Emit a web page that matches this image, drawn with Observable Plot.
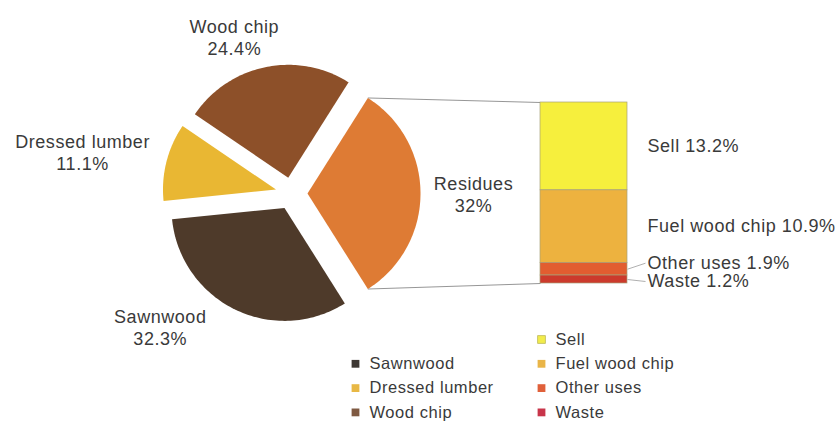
<!DOCTYPE html>
<html>
<head>
<meta charset="utf-8">
<script src="https://cdn.jsdelivr.net/npm/d3@7"></script>
<script src="https://cdn.jsdelivr.net/npm/@observablehq/plot@0.6"></script>
<style>
  html, body { margin: 0; padding: 0; background: #fff; }
  #chart svg { display: block; }
  #chart text { letter-spacing: 0.55px; }
</style>
</head>
<body>
<div id="chart"></div>
<script>
// ---------- data ----------
const mainCats = ["Residues", "Sawnwood", "Dressed lumber", "Wood chip"];
const mainVals = [32, 32.3, 11.1, 24.4];
const resCats = ["Sell", "Fuel wood chip", "Other uses", "Waste"];
const resVals = [13.2, 10.9, 1.9, 1.2];
const legendLeft = ["Sawnwood", "Dressed lumber", "Wood chip"];
const legendRight = ["Sell", "Fuel wood chip", "Other uses", "Waste"];

// ---------- styles / layout ----------
const colors = {
  "Residues": "#de7b34",
  "Sawnwood": "#4e3a2a",
  "Dressed lumber": "#e9b733",
  "Wood chip": "#8d5029",
  "Sell": "#f6ef3d",
  "Fuel wood chip": "#edb23f",
  "Other uses": "#e25d30",
  "Waste": "#cc3a2c"
};
const legendColors = {
  "Sawnwood": "#3d3733",
  "Dressed lumber": "#e8b845",
  "Wood chip": "#7f5a42",
  "Sell": "#f2ec4a",
  "Fuel wood chip": "#e9b548",
  "Other uses": "#e0603a",
  "Waste": "#c8354a"
};
const W = 837, H = 421;
const cx = 291, cy = 193, R = 113, explode = 16;
const labelLayout = {  // label radius and angle nudge (degrees) around pie centre
  "Residues": {r: 182, da: 0},
  "Sawnwood": {r: 187, da: 18.6},
  "Dressed lumber": {r: 213, da: -3},
  "Wood chip": {r: 167, da: -8.3}
};
const barX1 = 540, barX2 = 627, barTop = 102, barBottom = 283;
const barLabelX = 647;
const smallNudge = {"Other uses": -6, "Waste": 2};
const textColor = "#3a3a3a";
const font = "Liberation Sans, Arial, sans-serif";

// ---------- pie geometry (from data) ----------
const mainTotal = d3.sum(mainVals);
const start = Math.PI / 2 - Math.PI * mainVals[0] / mainTotal;
const arcs = d3.pie().sort(null).startAngle(start).endAngle(start + 2 * Math.PI)(mainVals);
const polar = (ox, oy, r, a) => [ox + r * Math.sin(a), oy - r * Math.cos(a)];

const slicePts = [];
const sliceInfo = [];
arcs.forEach((a, i) => {
  const cat = mainCats[i];
  const mid = (a.startAngle + a.endAngle) / 2;
  const [ox, oy] = polar(cx, cy, explode, mid);
  slicePts.push({cat, x: ox, y: oy});
  const n = 80;
  for (let k = 0; k <= n; k++) {
    const ang = a.startAngle + (a.endAngle - a.startAngle) * k / n;
    const [x, y] = polar(ox, oy, R, ang);
    slicePts.push({cat, x, y});
  }
  slicePts.push({cat, x: ox, y: oy});
  const L = labelLayout[cat];
  const [lx, ly] = polar(cx, cy, L.r, mid + L.da * Math.PI / 180);
  sliceInfo.push({cat, value: mainVals[i], ox, oy, a0: a.startAngle, a1: a.endAngle, lx, ly,
    label: `${cat}\n${mainVals[i]}%`});
});

// ---------- bar geometry (from data) ----------
const resTotal = d3.sum(resVals);
const yBar = d3.scaleLinear().domain([0, resTotal]).range([barTop, barBottom]);
let cum = 0;
const barSegs = resCats.map((cat, i) => {
  const s = {cat, value: resVals[i], y1: yBar(cum), y2: yBar(cum + resVals[i])};
  cum += resVals[i];
  s.mid = (s.y1 + s.y2) / 2;
  s.ly = s.mid + (smallNudge[cat] || 0);
  s.label = `${cat} ${resVals[i]}%`;
  return s;
});

// connectors from the Residues slice corners to the bar
const res = sliceInfo[0];
const [tx, ty] = polar(res.ox, res.oy, R, res.a0);
const [bx, by] = polar(res.ox, res.oy, R, res.a1);
const connectors = [
  {x1: tx, y1: ty, x2: barX1, y2: yBar(0)},
  {x1: bx, y1: by, x2: barX1, y2: yBar(resTotal)}
];
const leaders = barSegs.filter(d => smallNudge[d.cat] !== undefined)
  .map(d => ({x1: barX2, y1: d.mid, x2: barLabelX - 2, y2: d.ly}));

// ---------- legend ----------
const rowY0 = 339, rowStep = 24.3;
const legend = [
  ...legendLeft.map((cat, i) => ({cat, x: 355, tx: 369, y: rowY0 + rowStep * (i + 1)})),
  ...legendRight.map((cat, i) => ({cat, x: 541, tx: 555, y: rowY0 + rowStep * i}))
];

const chart = Plot.plot({
  width: W,
  height: H,
  margin: 0,
  x: {type: "identity", axis: null},
  y: {type: "identity", axis: null},
  color: {type: "identity"},
  style: {fontFamily: font, background: "#fff"},
  marks: [
    Plot.link(connectors, {x1: "x1", y1: "y1", x2: "x2", y2: "y2", stroke: "#8a8a8a", strokeWidth: 0.9}),
    Plot.line(slicePts, {x: "x", y: "y", z: "cat", fill: d => colors[d.cat], stroke: "none"}),
    Plot.rect(barSegs, {x1: barX1, x2: barX2, y1: "y1", y2: "y2", fill: d => colors[d.cat],
      stroke: "#a7a27a", strokeWidth: 0.7}),
    Plot.link(leaders, {x1: "x1", y1: "y1", x2: "x2", y2: "y2", stroke: "#9a9a9a", strokeWidth: 0.8}),
    Plot.text(sliceInfo, {x: "lx", y: "ly", text: "label", fill: textColor, fontSize: 18,
      lineHeight: 1.22, textAnchor: "middle"}),
    Plot.text(barSegs, {x: barLabelX, y: "ly", text: "label", fill: textColor, fontSize: 18,
      textAnchor: "start"}),
    Plot.dot(legend, {x: "x", y: "y", symbol: "square", r: 4.4, fill: d => legendColors[d.cat],
      stroke: d => d.cat === "Sell" ? "#c9c46a" : "none", strokeWidth: 1}),
    Plot.text(legend, {x: "tx", y: "y", text: "cat", fill: textColor, fontSize: 16.5,
      textAnchor: "start"})
  ]
});
document.getElementById("chart").appendChild(chart);
</script>
</body>
</html>
